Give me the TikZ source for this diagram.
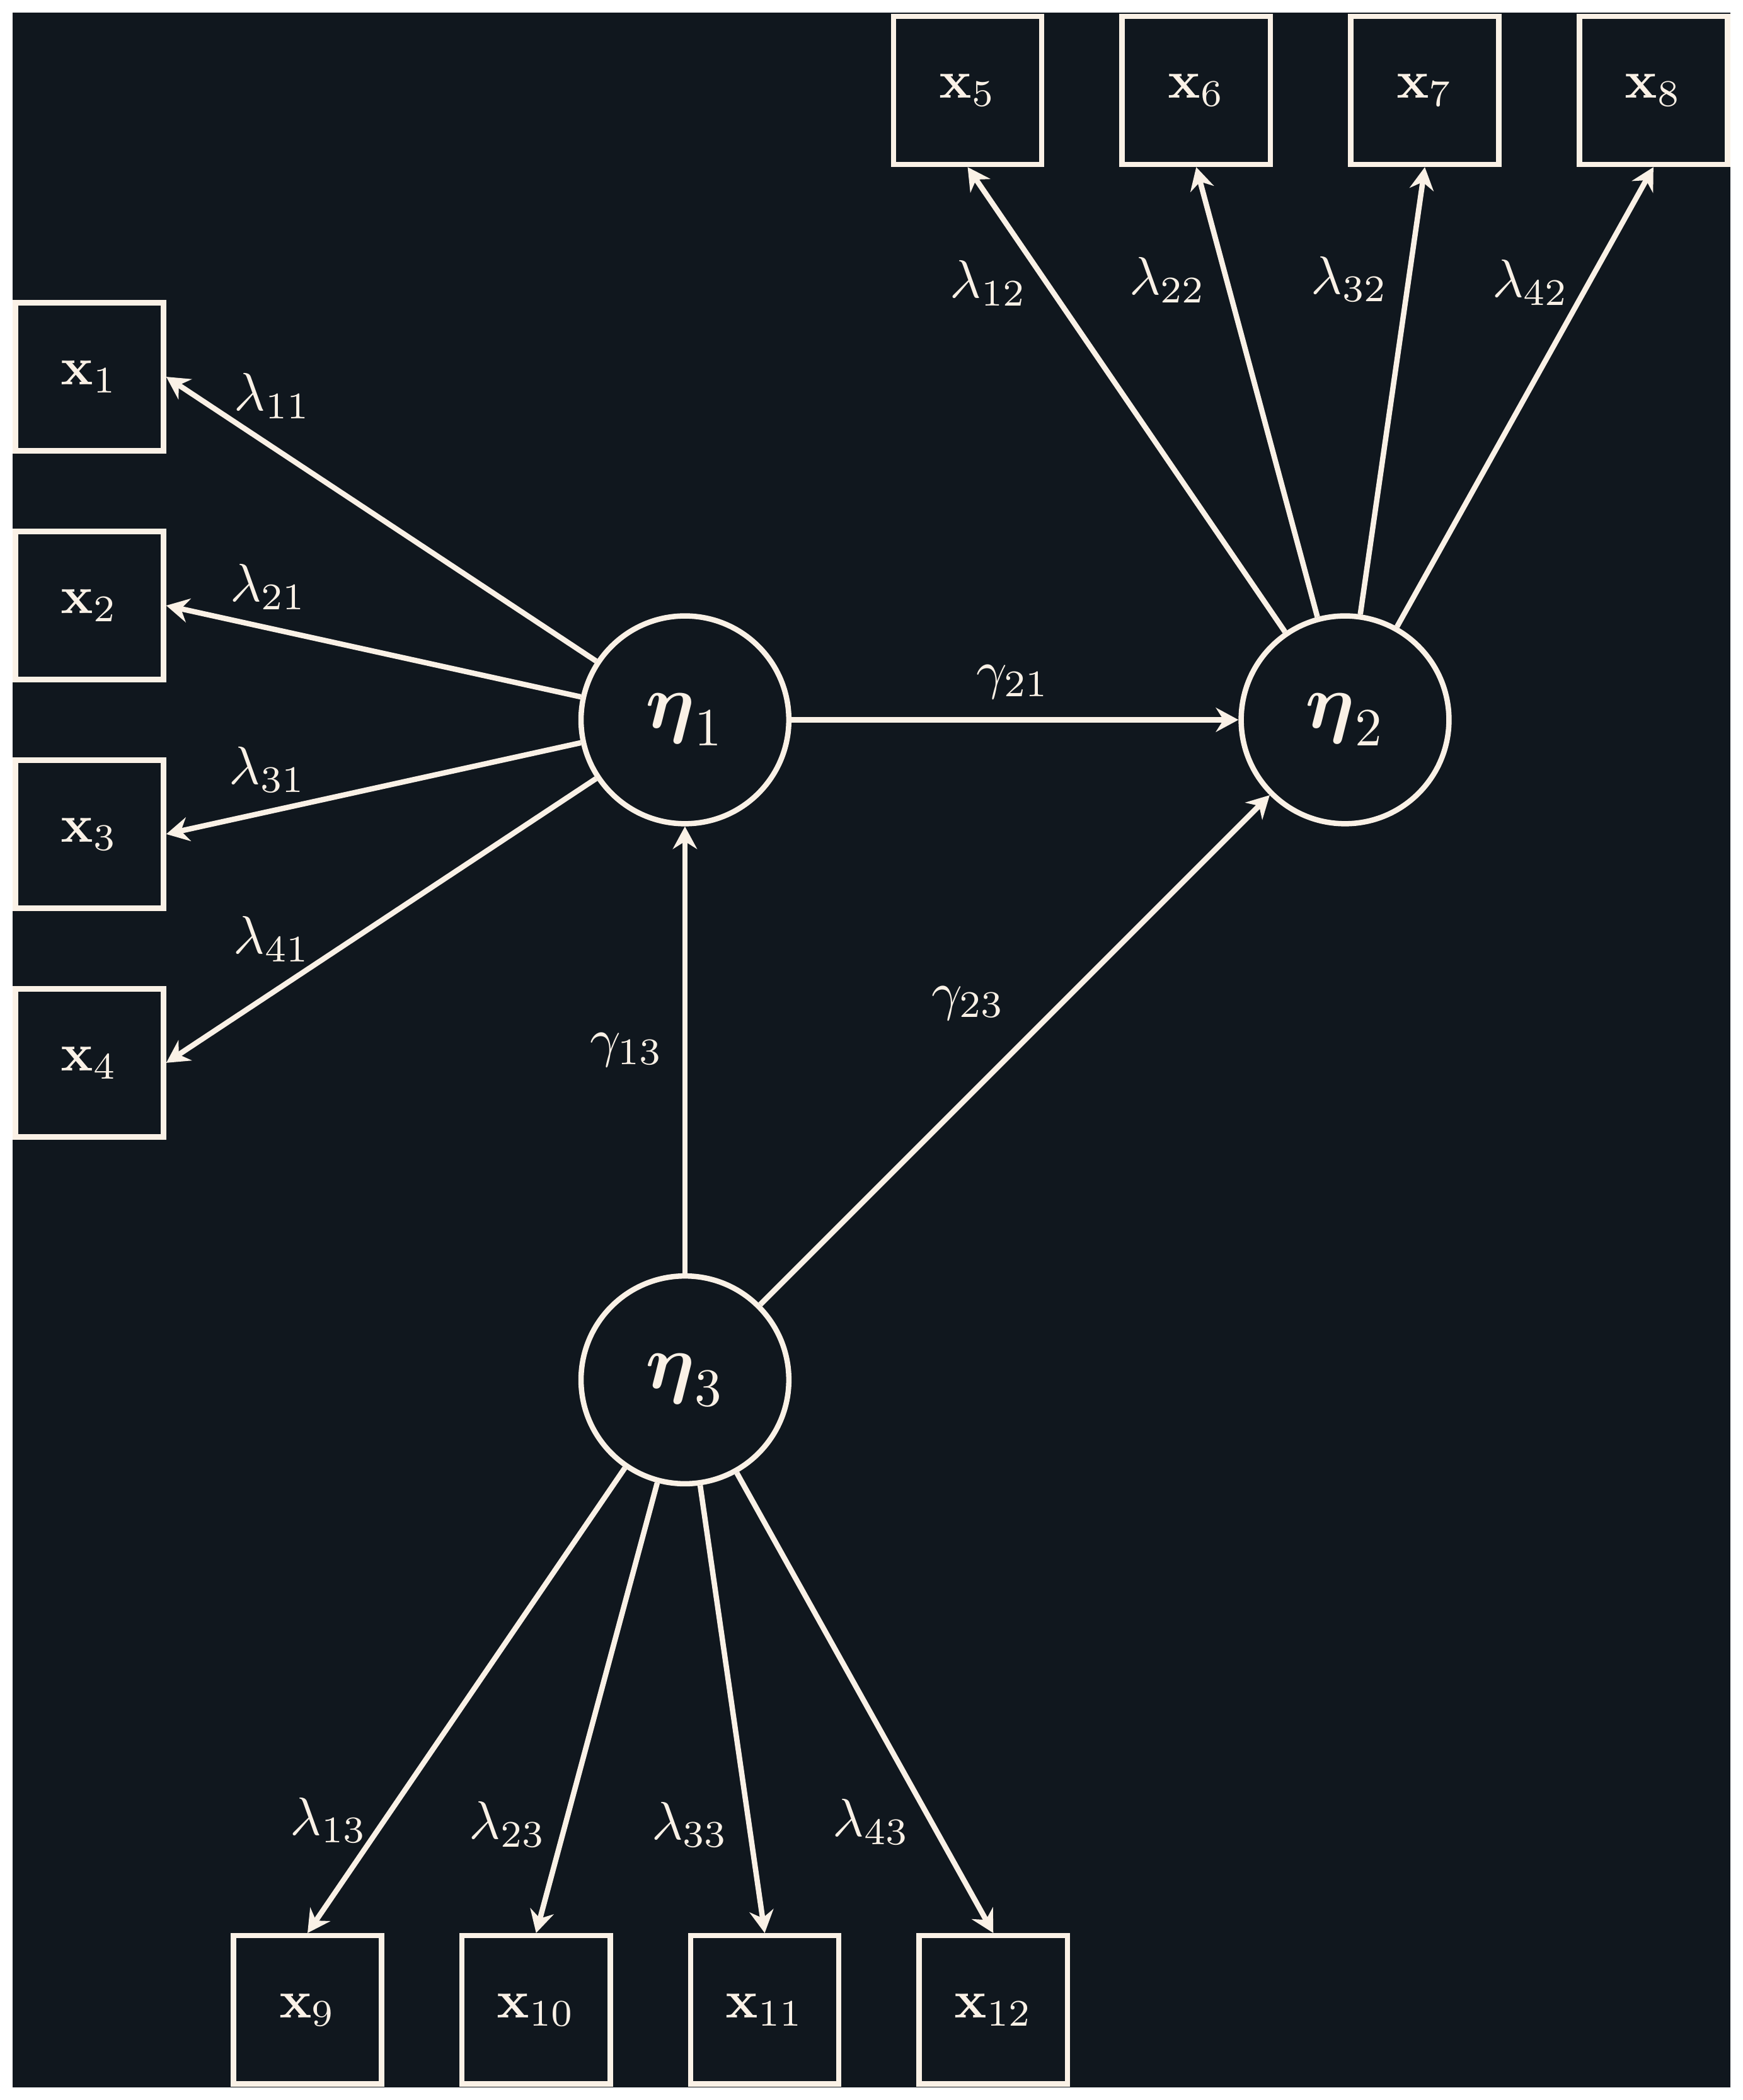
\documentclass[tikz,border=0pt]{standalone}
\usepackage{amsmath,amssymb}
\usetikzlibrary{arrows.meta}
\definecolor{bgnavy}{RGB}{16,23,30}
\definecolor{linen}{RGB}{250,241,230}
\begin{document}
\begin{tikzpicture}[
  obs/.style={draw=linen,line width=1pt,rectangle,minimum size=0.97cm,inner sep=0pt,text=linen},
  lat/.style={draw=linen,line width=1pt,circle,minimum size=1.36cm,inner sep=0pt,text=linen,font=\Large},
  lbl/.style={text=linen,inner sep=1pt},
  load/.style={draw=linen,line width=1pt,-{Stealth[length=4.2pt,width=4.5pt,inset=1.4pt]}}]
\useasboundingbox(-4.4825,4.7115) rectangle (6.9235,-9.0335);
\fill[bgnavy](-4.4,4.629) rectangle (6.841,-8.951);
% latent variables
\node[lat](eta1) at (0,0) {$\boldsymbol{\eta}_1$};
\node[lat](eta2) at (4.32,0) {$\boldsymbol{\eta}_2$};
\node[lat](eta3) at (0,-4.32) {$\boldsymbol{\eta}_3$};
% indicators
\foreach \i/\y in {1/2.245,2/0.748,3/-0.748,4/-2.245}
  \node[obs](x\i) at (-3.897,\y) {$\mathbf{x}_{\i}$};
\foreach \i/\x in {5/1.85,6/3.346,7/4.842,8/6.338}
  \node[obs](x\i) at (\x,4.12) {$\mathbf{x}_{\i}$};
\foreach \i/\x in {9/-2.47,10/-0.974,11/0.522,12/2.018}
  \node[obs](x\i) at (\x,-8.443) {$\mathbf{x}_{\i}$};
% loadings
\foreach \i in {1,...,4} \draw[load](eta1)--(x\i.east);
\foreach \i in {5,...,8} \draw[load](eta2)--(x\i.south);
\foreach \i in {9,...,12} \draw[load](eta3)--(x\i.north);
% structural paths
\draw[load](eta1)--(eta2);
\draw[load](eta3)--(eta1);
\draw[load](eta3)--(eta2);
% labels
\node[lbl](l11) at (-2.697,2.120) {$\lambda_{11}$};
\node[lbl](l21) at (-2.725,0.870) {$\lambda_{21}$};
\node[lbl](l31) at (-2.730,-0.325) {$\lambda_{31}$};
\node[lbl](l41) at (-2.702,-1.435) {$\lambda_{41}$};
\node[lbl](l12) at (1.986,2.857) {$\lambda_{12}$};
\node[lbl](l22) at (3.160,2.880) {$\lambda_{22}$};
\node[lbl](l32) at (4.348,2.885) {$\lambda_{32}$};
\node[lbl](l42) at (5.535,2.861) {$\lambda_{42}$};
\node[lbl](l13) at (-2.332,-7.202) {$\lambda_{13}$};
\node[lbl](l23) at (-1.160,-7.228) {$\lambda_{23}$};
\node[lbl](l33) at (0.034,-7.231) {$\lambda_{33}$};
\node[lbl](l43) at (1.220,-7.212) {$\lambda_{43}$};
\node[lbl](g21) at (2.146,0.247) {$\gamma_{21}$};
\node[lbl](g13) at (-0.381,-2.161) {$\gamma_{13}$};
\node[lbl](g23) at (1.854,-1.854) {$\gamma_{23}$};
\end{tikzpicture}
\end{document}
